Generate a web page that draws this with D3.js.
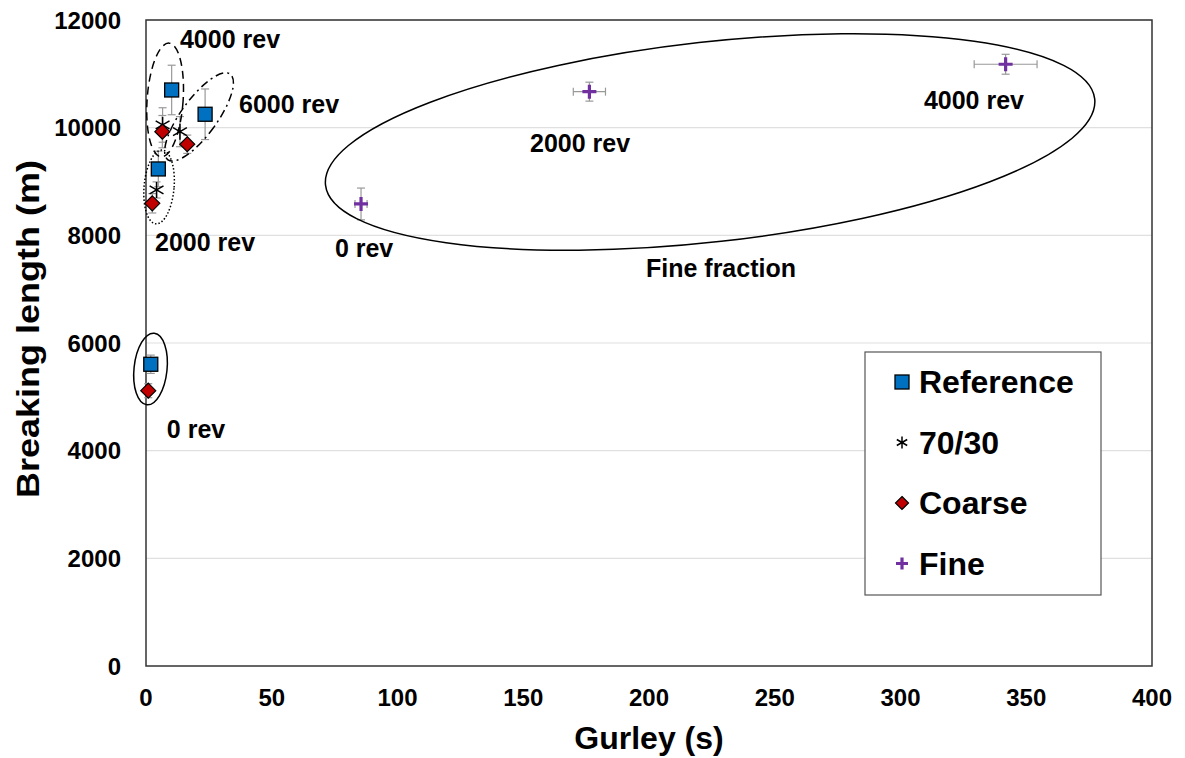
<!DOCTYPE html>
<html>
<head>
<meta charset="utf-8">
<script src="https://cdn.jsdelivr.net/npm/d3@7"></script>
<style>
  body { margin: 0; background: #fff; }
  svg text { font-family: "Liberation Sans", Arial, sans-serif; font-weight: bold; }
</style>
</head>
<body>
<div id="chart"></div>
<script>
// series: [gurley, breaking length, y error, x error]
const reference = [
    [1.9, 5605, 170, 0],
    [4.9, 9233, 330, 0],
    [10.2, 10700, 460, 0],
    [23.5, 10249, 470, 0]
];
const mix7030 = [
    [4.2, 8843, 150, 0],
    [6.6, 10050, 320, 0],
    [13.5, 9926, 280, 0]
];
const coarse = [
    [0.9, 5114, 130, 0],
    [2.5, 8595, 180, 0],
    [6.5, 9926, 300, 0],
    [16.4, 9692, 170, 0]
];
const fine = [
    [85.5, 8583, 295, 2.4],
    [176.3, 10669, 176, 6.4],
    [341.8, 11178, 185, 12.5]
];

const xTicks = [0, 50, 100, 150, 200, 250, 300, 350, 400];
const yTicks = [0, 2000, 4000, 6000, 8000, 10000, 12000];

// annotations in data coords
const labels = [
    ["4000 rev", 13.5, 11648],
    ["6000 rev", 37, 10440],
    ["2000 rev", 3.6, 7877],
    ["0 rev", 8.3, 4403],
    ["0 rev", 75.1, 7765],
    ["2000 rev", 152.7, 9716],
    ["4000 rev", 309.3, 10515],
    ["Fine fraction", 198.8, 7394]
];
// [x, y, rx px, ry px, angle, dash]
const rings = [
    [224.3, 9734, 387, 100, -6.4, null],
    [1.8, 5517, 16.5, 36, 6, null],
    [5.2, 8898, 15, 37, 5, "1.5,2"],
    [7.6, 10514, 18, 57, 4, "8,5"],
    [21.1, 10199, 18, 53, 36, "8,4,2,4"]
];

const width = 1185, height = 758;
const svg = d3.select("#chart").append("svg")
    .attr("width", width)
    .attr("height", height);

const x = d3.scaleLinear().domain([0, 400]).range([146, 1152]);
const y = d3.scaleLinear().domain([0, 12000]).range([666, 20]);

// gridlines
svg.append("g").selectAll("line").data(yTicks.slice(1)).enter()
    .append("line")
        .attr("x1", x(0)).attr("x2", x(400))
        .attr("y1", d => y(d)).attr("y2", d => y(d))
        .attr("stroke", "#e0e0e0").attr("stroke-width", 1.2);

// tick labels
svg.append("g").selectAll("text").data(yTicks).enter()
    .append("text")
        .attr("x", 121).attr("y", d => y(d))
        .attr("text-anchor", "end").attr("dominant-baseline", "central")
        .attr("font-size", 24)
        .text(d => d);

svg.append("g").selectAll("text").data(xTicks).enter()
    .append("text")
        .attr("x", d => x(d)).attr("y", 706)
        .attr("text-anchor", "middle")
        .attr("font-size", 24)
        .text(d => d);

svg.append("text")
    .attr("x", (x(0) + x(400)) / 2).attr("y", 749)
    .attr("text-anchor", "middle").attr("font-size", 32)
    .text("Gurley (s)");

svg.append("text")
    .attr("transform", "translate(39,329) rotate(-90)")
    .attr("text-anchor", "middle").attr("font-size", 32)
    .attr("textLength", 338).attr("lengthAdjust", "spacingAndGlyphs")
    .text("Breaking length (m)");

// plot frame
svg.append("rect")
    .attr("x", x(0)).attr("y", y(12000))
    .attr("width", x(400) - x(0)).attr("height", y(0) - y(12000))
    .attr("fill", "none").attr("stroke", "#333").attr("stroke-width", 1.5);

// error bars
function errorBars(data) {
    const g = svg.append("g").attr("stroke", "#999").attr("stroke-width", 1.2);
    for (const d of data) {
        const cx = x(d[0]), cy = y(d[1]);
        if (d[2] > 0) {
            g.append("line").attr("x1", cx).attr("x2", cx).attr("y1", y(d[1] - d[2])).attr("y2", y(d[1] + d[2]));
            g.append("line").attr("x1", cx - 4).attr("x2", cx + 4).attr("y1", y(d[1] - d[2])).attr("y2", y(d[1] - d[2]));
            g.append("line").attr("x1", cx - 4).attr("x2", cx + 4).attr("y1", y(d[1] + d[2])).attr("y2", y(d[1] + d[2]));
        }
        if (d[3] > 0) {
            g.append("line").attr("y1", cy).attr("y2", cy).attr("x1", x(d[0] - d[3])).attr("x2", x(d[0] + d[3]));
            g.append("line").attr("y1", cy - 4).attr("y2", cy + 4).attr("x1", x(d[0] - d[3])).attr("x2", x(d[0] - d[3]));
            g.append("line").attr("y1", cy - 4).attr("y2", cy + 4).attr("x1", x(d[0] + d[3])).attr("x2", x(d[0] + d[3]));
        }
    }
}
errorBars(reference);
errorBars(mix7030);
errorBars(coarse);
errorBars(fine);

// marker shapes
function drawMarker(g, kind, cx, cy, s) {
    if (kind == "square") {
        g.append("rect").attr("x", cx - s / 2).attr("y", cy - s / 2)
            .attr("width", s).attr("height", s)
            .attr("fill", "#0070C0").attr("stroke", "#000").attr("stroke-width", 1.3);
    } else if (kind == "diamond") {
        g.append("path")
            .attr("d", `M${cx},${cy - s / 2}L${cx + s / 2},${cy}L${cx},${cy + s / 2}L${cx - s / 2},${cy}Z`)
            .attr("fill", "#C00000").attr("stroke", "#000").attr("stroke-width", 1.2);
    } else if (kind == "star") {
        const r = s / 2;
        let p = `M${cx},${cy - r}L${cx},${cy + r}`;
        for (const a of [30, 150]) {
            const rad = a * Math.PI / 180;
            p += `M${cx - r * Math.cos(rad)},${cy - r * Math.sin(rad)}L${cx + r * Math.cos(rad)},${cy + r * Math.sin(rad)}`;
        }
        g.append("path").attr("d", p).attr("stroke", "#000").attr("stroke-width", 1.5).attr("fill", "none");
    } else if (kind == "plus") {
        const r = s / 2;
        g.append("path").attr("d", `M${cx - r},${cy}L${cx + r},${cy}M${cx},${cy - r}L${cx},${cy + r}`)
            .attr("stroke", "#7030A0").attr("stroke-width", 3.2).attr("fill", "none");
    }
}

const series = [
    { name: "Reference", data: reference, kind: "square", size: 14 },
    { name: "70/30", data: mix7030, kind: "star", size: 16 },
    { name: "Coarse", data: coarse, kind: "diamond", size: 15 },
    { name: "Fine", data: fine, kind: "plus", size: 14 }
];

for (const s of series) {
    const g = svg.append("g");
    for (const d of s.data) drawMarker(g, s.kind, x(d[0]), y(d[1]), s.size);
}

// annotation ellipses
for (const r of rings) {
    svg.append("ellipse")
        .attr("transform", `translate(${x(r[0])},${y(r[1])}) rotate(${r[4]})`)
        .attr("rx", r[2]).attr("ry", r[3])
        .attr("fill", "none").attr("stroke", "#000").attr("stroke-width", 1.5)
        .attr("stroke-dasharray", r[5]);
}

svg.append("g").selectAll("text").data(labels).enter()
    .append("text")
        .attr("x", d => x(d[1])).attr("y", d => y(d[2]))
        .attr("dominant-baseline", "central")
        .attr("font-size", 25)
        .text(d => d[0]);

// legend
const legend = svg.append("g");
legend.append("rect")
    .attr("x", 865).attr("y", 352).attr("width", 236).attr("height", 243)
    .attr("fill", "#fff").attr("stroke", "#555").attr("stroke-width", 1.2);
const legendSizes = { square: 14, star: 12, diamond: 13, plus: 12 };
series.forEach((s, i) => {
    const ly = 382 + i * 60.5;
    drawMarker(legend, s.kind, 902, ly, legendSizes[s.kind]);
    legend.append("text")
        .attr("x", 919).attr("y", ly)
        .attr("dominant-baseline", "central")
        .attr("font-size", 32)
        .text(s.name);
});
</script>
</body>
</html>
